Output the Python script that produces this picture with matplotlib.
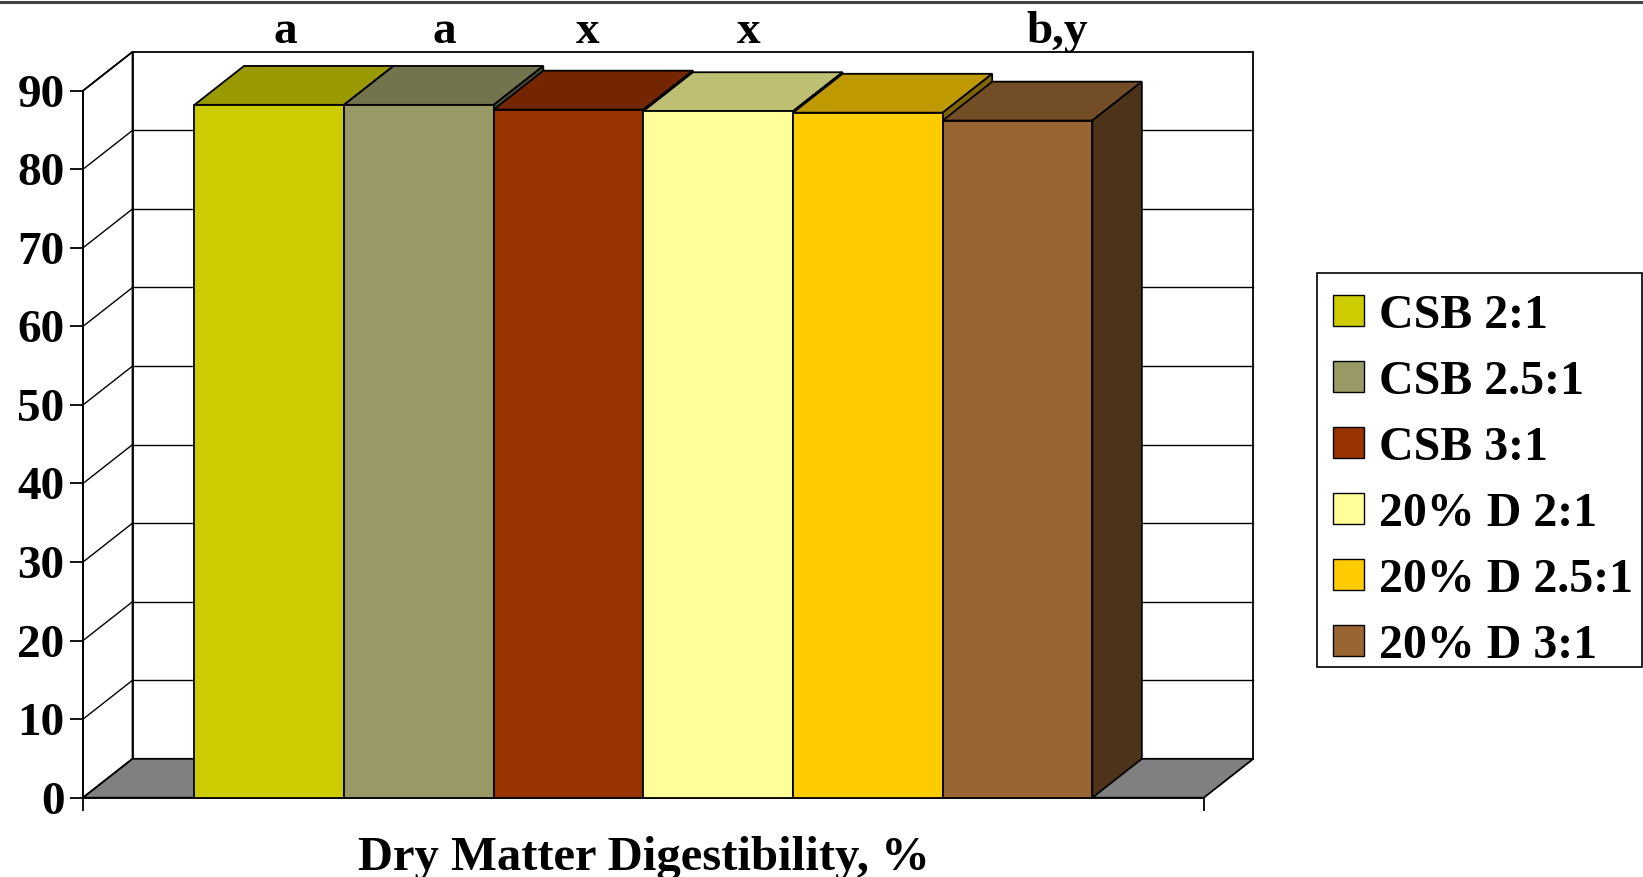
import matplotlib

matplotlib.use("Agg")
import matplotlib.pyplot as plt
from matplotlib.colors import to_rgb
from matplotlib.lines import Line2D
from matplotlib.patches import Polygon, Rectangle

# data
groups = ["CSB 2:1", "CSB 2.5:1", "CSB 3:1", "20% D 2:1", "20% D 2.5:1", "20% D 3:1"]
digestibility = [88.2, 88.2, 87.6, 87.4, 87.2, 86.2]
letters = ["a", "a", "x", "x", "", "b,y"]
colors = ["#CCCC00", "#999966", "#993300", "#FFFF99", "#FFCC00", "#996633"]
y_ticks = list(range(0, 100, 10))
x_label = "Dry Matter Digestibility, %"

# layout: pixel sizes of the original, fake 3-D depth in axis units
W, H = 1643, 877
DX, DY = 0.331, 4.95
MARGIN = 0.745
letter_nudge = [0.105, 0.168, 0.131, 0.202, 0.0, 0.264]
FS = 34
LW = 1.3


def shade(color, f):
    r, g, b = to_rgb(color)
    return (r * f, g * f, b * f)


plt.rcParams["font.family"] = ["Liberation Serif", "DejaVu Serif"]
plt.rcParams["font.weight"] = "bold"

fig = plt.figure(figsize=(W / 100, H / 100), dpi=100)
ax = fig.add_axes([83 / W, 1 - 797.7 / H, (1203.8 - 83) / W, (797.7 - 90.7) / H])

n = len(digestibility)
xs = list(range(n))
xl, xr = -0.5 - MARGIN, n - 0.5 + MARGIN
ymax = y_ticks[-1]
ax.set_xlim(xl, xr)
ax.set_ylim(0, ymax)

# walls and floor
ax.add_patch(Polygon([(xl, 0), (xl + DX, DY), (xl + DX, ymax + DY), (xl, ymax)],
                     facecolor="white", edgecolor="black", lw=LW, zorder=1, clip_on=False))
ax.add_patch(Rectangle((xl + DX, DY), xr - xl, ymax, facecolor="white",
                       edgecolor="black", lw=LW, zorder=1, clip_on=False))
for v in y_ticks[1:-1]:
    ax.plot([xl + DX, xr + DX], [v + DY, v + DY], color="black", lw=1.0, zorder=2, clip_on=False)
for v in y_ticks[1:]:
    ax.plot([xl, xl + DX], [v, v + DY], color="black", lw=1.0, zorder=2, clip_on=False)
ax.add_patch(Polygon([(xl, 0), (xr, 0), (xr + DX, DY), (xl + DX, DY)],
                     facecolor="#808080", edgecolor="black", lw=LW, zorder=3, clip_on=False))

# bars: front faces from ax.bar, tops and sides as shaded polygons
bars = ax.bar(xs, digestibility, width=1.0, color=colors, edgecolor="black", lw=LW)
for i, (x, v, c) in enumerate(zip(xs, digestibility, colors)):
    x0, x1 = x - 0.5, x + 0.5
    ax.add_patch(Polygon([(x0, v), (x1, v), (x1 + DX, v + DY), (x0 + DX, v + DY)],
                         facecolor=shade(c, 0.75), edgecolor="black", lw=LW,
                         zorder=10 + 3 * i, clip_on=False))
    ax.add_patch(Polygon([(x1, 0), (x1 + DX, DY), (x1 + DX, v + DY), (x1, v)],
                         facecolor=shade(c, 0.5), edgecolor="black", lw=LW,
                         zorder=11 + 3 * i, clip_on=False))
    bars[i].set_zorder(12 + 3 * i)
    if letters[i]:
        ax.text(x + letter_nudge[i], 96.1, letters[i], ha="center", va="baseline",
                fontsize=FS, fontweight="bold", clip_on=False)

# axes
for side in ["top", "right"]:
    ax.spines[side].set_visible(False)
for side in ["left", "bottom"]:
    ax.spines[side].set_linewidth(LW)
ax.set_yticks(y_ticks)
ax.set_xticks([xl, xr])
ax.set_xticklabels([])
ax.tick_params(axis="both", direction="out", length=9.4, width=LW, labelsize=FS, pad=4)
for lab in ax.get_yticklabels():
    lab.set_fontweight("bold")

fig.text(643.4 / W, 1 - 870 / H, x_label, ha="center", va="baseline",
         fontsize=35, fontweight="bold")

# legend: frame drawn separately so its box matches the original exactly
fig.add_artist(Rectangle((1317 / W, 1 - 667 / H), (1641.5 - 1317) / W, (667 - 272.7) / H,
                         transform=fig.transFigure, facecolor="white", edgecolor="black",
                         lw=1.2, zorder=4))
handles = [Rectangle((0, 0), 1, 1, facecolor=c, edgecolor="black", lw=1.0) for c in colors]
leg = fig.legend(handles, groups, loc="upper left", bbox_to_anchor=(1333 / W, 1 - 293.5 / H),
                 fontsize=34.5, frameon=False, borderpad=0, labelspacing=0.46,
                 handlelength=0.64, handleheight=0.62, handletextpad=0.31, borderaxespad=0)
leg.set_zorder(5)
for t in leg.get_texts():
    t.set_fontweight("bold")

fig.add_artist(Line2D([0, 1], [1 - 2 / H, 1 - 2 / H], color="#444444", lw=2.2))

fig.savefig("out.png", dpi=100)
